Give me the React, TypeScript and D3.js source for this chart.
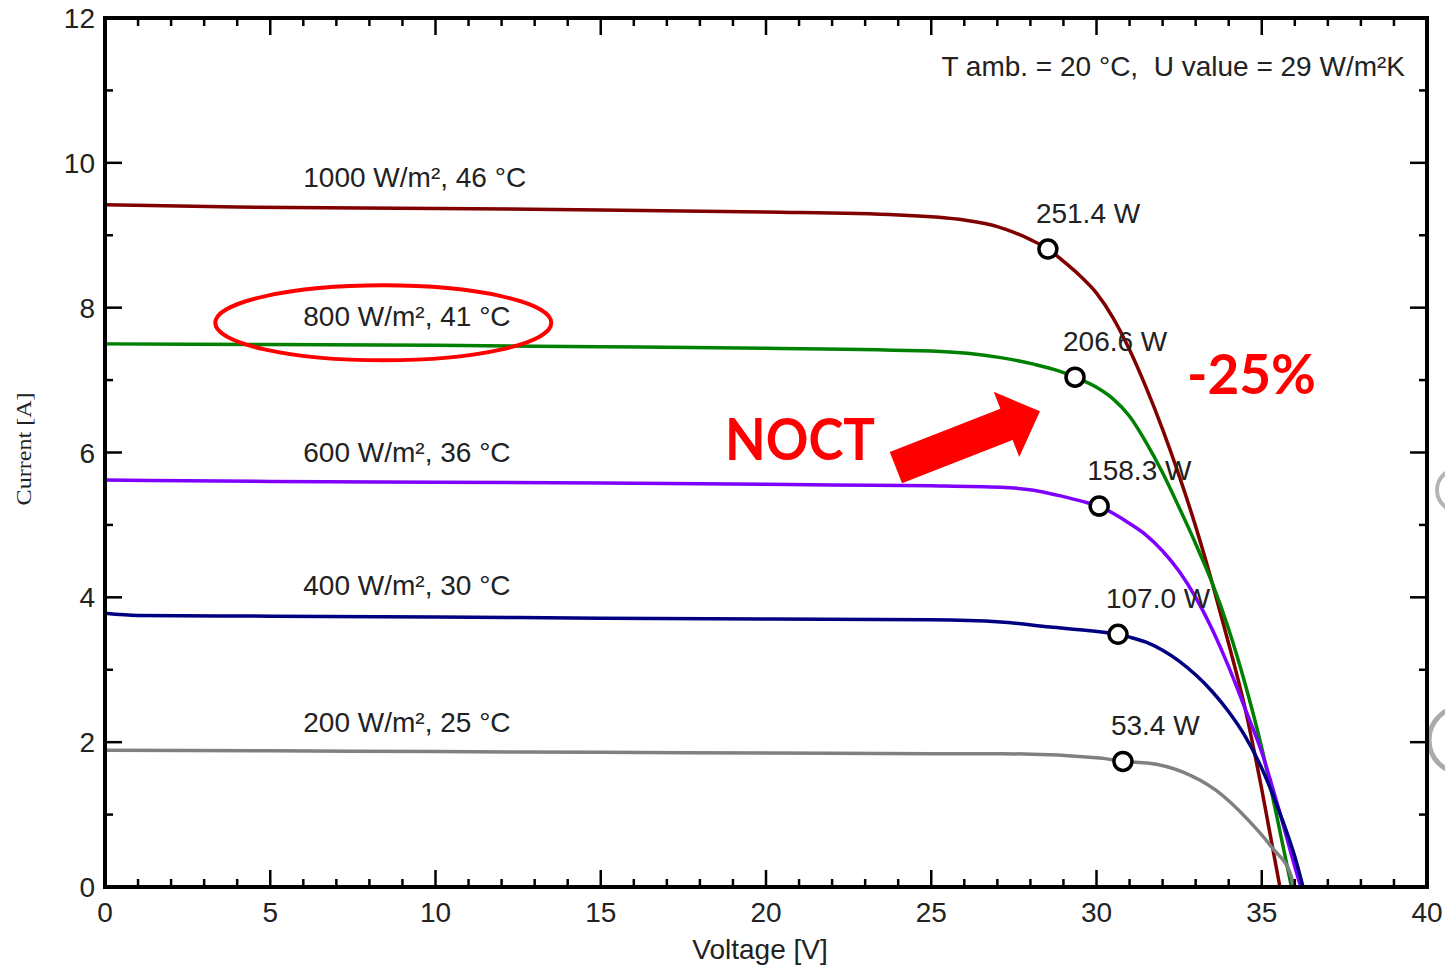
import React, { Component, createRef } from 'react';
import * as d3 from 'd3';

type Pt = [number, number];

const WIDTH = 1445;
const HEIGHT = 967;
const margin = { top: 18, right: 18, bottom: 80, left: 105 };

// voltage [V], current [A]
const curve1000: Pt[] = [
  [0, 9.42], [4, 9.39], [10, 9.37], [15, 9.35], [20, 9.32], [24, 9.28], [26, 9.21],
  [27.0, 9.12], [27.5, 9.04], [28.0, 8.94], [28.53, 8.81], [29.0, 8.64], [29.5, 8.44],
  [30.0, 8.20], [30.5, 7.86], [31.0, 7.42], [31.5, 6.90], [32.0, 6.32], [32.5, 5.68],
  [33.0, 4.98], [33.5, 4.20], [34.0, 3.36], [34.5, 2.46], [35.0, 1.35], [35.55, 0]
];
const curve800: Pt[] = [
  [0, 7.50], [5, 7.49], [10, 7.48], [15, 7.46], [20, 7.44], [25, 7.40], [27.1, 7.31],
  [28.1, 7.22], [28.9, 7.12], [29.35, 7.04], [30.0, 6.90], [30.5, 6.74], [31.0, 6.50],
  [31.5, 6.14], [32.0, 5.72], [32.5, 5.24], [33.0, 4.74], [33.5, 4.20], [34.0, 3.56],
  [34.5, 2.80], [35.0, 1.92], [35.5, 0.88], [35.9, 0]
];
const curve600: Pt[] = [
  [0, 5.62], [5, 5.60], [10, 5.59], [15, 5.58], [18, 5.57], [22, 5.55], [25, 5.54],
  [27.1, 5.52], [28.1, 5.48], [29.1, 5.38], [29.7, 5.31], [30.08, 5.26], [30.5, 5.16],
  [31.0, 5.02], [31.5, 4.86], [32.0, 4.64], [32.5, 4.36], [33.0, 4.00], [33.5, 3.56],
  [34.0, 3.04], [34.5, 2.46], [35.0, 1.86], [35.5, 1.10], [36.0, 0.28], [36.18, 0]
];
const curve400: Pt[] = [
  [0, 3.78], [1, 3.75], [5, 3.74], [10, 3.73], [15, 3.71], [20, 3.70], [25, 3.69],
  [27.1, 3.66], [28.6, 3.59], [29.8, 3.54], [30.65, 3.49], [31.0, 3.45], [31.5, 3.38],
  [32.0, 3.27], [32.5, 3.12], [33.0, 2.93], [33.5, 2.70], [34.0, 2.42], [34.5, 2.08],
  [35.0, 1.64], [35.5, 1.08], [36.0, 0.42], [36.25, 0]
];
const curve200: Pt[] = [
  [0, 1.89], [5, 1.88], [10, 1.87], [15, 1.86], [20, 1.85], [25, 1.84], [27.1, 1.84],
  [30.1, 1.78], [30.8, 1.734], [31.6, 1.71], [32.6, 1.59], [33.6, 1.34], [34.6, 0.92],
  [35.3, 0.55], [35.9, 0.14], [35.95, 0]
];

const curves = [curve1000, curve800, curve600, curve400, curve200];
const curveLabels = [
  '1000 W/m², 46 °C', '800 W/m², 41 °C', '600 W/m², 36 °C', '400 W/m², 30 °C', '200 W/m², 25 °C'
];
const curveColors = ['#800000', '#008000', '#8000ff', '#000080', '#808080'];

// maximum power points
const mppVoltage = [28.53, 29.35, 30.08, 30.65, 30.8];
const mppCurrent = [8.81, 7.04, 5.26, 3.49, 1.734];
const mppLabels = ['251.4 W', '206.6 W', '158.3 W', '107.0 W', '53.4 W'];

const xTicks = [0, 5, 10, 15, 20, 25, 30, 35, 40];
const yTicks = [0, 2, 4, 6, 8, 10, 12];

const SANS = '"Liberation Sans", Arial, sans-serif';
const TEXT = '#222';

class IVChart extends Component {
  svgRef = createRef<SVGSVGElement>();

  componentDidMount() {
    this.draw();
  }

  componentDidUpdate() {
    this.draw();
  }

  draw() {
    const svg = d3.select(this.svgRef.current);
    svg.selectAll('*').remove();
    const x = d3.scaleLinear().domain([0, 40]).range([margin.left, WIDTH - margin.right]);
    const y = d3.scaleLinear().domain([0, 12]).range([HEIGHT - margin.bottom, margin.top]);

    this.drawSlideLeftovers(svg);
    this.drawCurves(svg, x, y);
    this.drawMpp(svg, x, y);
    this.drawFrame(svg, x, y);
    this.drawNotes(svg, x, y);
  }

  // bits of the slide the screenshot cut through on the right edge
  drawSlideLeftovers(svg) {
    svg.append('circle').attr('cx', 1458).attr('cy', 490).attr('r', 21)
      .attr('fill', 'none').attr('stroke', '#b4b4b4').attr('stroke-width', 4);
    svg.append('circle').attr('cx', 1462).attr('cy', 740).attr('r', 33)
      .attr('fill', 'none').attr('stroke', '#aaaaaa').attr('stroke-width', 5);
  }

  drawCurves(svg, x, y) {
    const line = d3.line<Pt>()
      .x(d => x(d[0]))
      .y(d => y(d[1]))
      .curve(d3.curveMonotoneX);

    curves.forEach((c, i) => {
      svg.append('path')
        .datum(c)
        .attr('d', line)
        .attr('fill', 'none')
        .attr('stroke', curveColors[i])
        .attr('stroke-width', 3.5);

      svg.append('text')
        .attr('x', x(6))
        .attr('y', y(c[0][1]) - 18)
        .attr('font-family', SANS)
        .attr('font-size', 28)
        .attr('fill', TEXT)
        .text(curveLabels[i]);
    });
  }

  drawMpp(svg, x, y) {
    mppVoltage.forEach((v, i) => {
      const cx = x(v);
      const cy = y(mppCurrent[i]);
      svg.append('circle')
        .attr('cx', cx).attr('cy', cy).attr('r', 9)
        .attr('fill', '#fff').attr('stroke', '#000').attr('stroke-width', 3.5);
      svg.append('text')
        .attr('x', cx - 12)
        .attr('y', cy - 26)
        .attr('font-family', SANS)
        .attr('font-size', 28)
        .attr('fill', TEXT)
        .text(mppLabels[i]);
    });
  }

  drawFrame(svg, x, y) {
    const [x0, x1] = x.range();
    const [y0, y1] = y.range();
    const ticks = svg.append('g').attr('stroke', '#000').attr('stroke-width', 2.5);

    d3.range(0, 41, 1).forEach(v => {
      const len = v % 5 === 0 ? 17 : 8;
      ticks.append('line').attr('x1', x(v)).attr('x2', x(v)).attr('y1', y0).attr('y2', y0 - len);
      ticks.append('line').attr('x1', x(v)).attr('x2', x(v)).attr('y1', y1).attr('y2', y1 + len);
    });
    d3.range(0, 13, 1).forEach(v => {
      const len = v % 2 === 0 ? 17 : 8;
      ticks.append('line').attr('y1', y(v)).attr('y2', y(v)).attr('x1', x0).attr('x2', x0 + len);
      ticks.append('line').attr('y1', y(v)).attr('y2', y(v)).attr('x1', x1).attr('x2', x1 - len);
    });

    svg.append('rect')
      .attr('x', x0).attr('y', y1)
      .attr('width', x1 - x0).attr('height', y0 - y1)
      .attr('fill', 'none').attr('stroke', '#000').attr('stroke-width', 4);

    svg.append('g').selectAll('text').data(xTicks).join('text')
      .attr('x', d => x(d))
      .attr('y', y0 + 35)
      .attr('text-anchor', 'middle')
      .attr('font-family', SANS)
      .attr('font-size', 28)
      .attr('fill', TEXT)
      .text(d => d);

    svg.append('g').selectAll('text').data(yTicks).join('text')
      .attr('x', x0 - 10)
      .attr('y', d => y(d) + 10)
      .attr('text-anchor', 'end')
      .attr('font-family', SANS)
      .attr('font-size', 28)
      .attr('fill', TEXT)
      .text(d => d);

    svg.append('text')
      .attr('x', (x0 + x1) / 2 - 6)
      .attr('y', 959)
      .attr('text-anchor', 'middle')
      .attr('font-family', SANS)
      .attr('font-size', 28)
      .attr('fill', TEXT)
      .text('Voltage [V]');

    svg.append('text')
      .attr('transform', `translate(31, ${y(6.05)}) rotate(-90)`)
      .attr('text-anchor', 'middle')
      .attr('font-family', '"Liberation Serif", "Times New Roman", serif')
      .attr('font-size', 22)
      .attr('textLength', 113)
      .attr('lengthAdjust', 'spacingAndGlyphs')
      .attr('fill', TEXT)
      .text('Current [A]');

    svg.append('text')
      .attr('x', 1405)
      .attr('y', 76)
      .attr('text-anchor', 'end')
      .attr('font-family', SANS)
      .attr('font-size', 28)
      .attr('fill', TEXT)
      .style('white-space', 'pre')
      .text('T amb. = 20 °C,  U value = 29 W/m²K');
  }

  // red slide annotations on top of the chart
  drawNotes(svg, x, y) {
    const red = '#ff0000';

    svg.append('ellipse')
      .attr('cx', x(8.42)).attr('cy', y(7.79))
      .attr('rx', 168).attr('ry', 37.5)
      .attr('fill', 'none').attr('stroke', red).attr('stroke-width', 4);

    // arrow from tail to tip, in data units
    const tail = [x(23.93), y(5.79)];
    const tip = [x(28.29), y(6.57)];
    const dx = tip[0] - tail[0];
    const dy = tip[1] - tail[1];
    const len = Math.hypot(dx, dy);
    const ux = dx / len, uy = dy / len;
    const nx = -uy, ny = ux;
    const shaft = 16.8, head = 35, neck = len - 36;
    const at = (a, n) => [tail[0] + ux * a + nx * n, tail[1] + uy * a + ny * n];
    const pts = [at(0, shaft), at(neck, shaft), at(neck, head), at(len, 0),
      at(neck, -head), at(neck, -shaft), at(0, -shaft)];
    svg.append('polygon')
      .attr('points', pts.map(p => p.join(',')).join(' '))
      .attr('fill', red);

    svg.append('text')
      .attr('x', x(18.76)).attr('y', y(5.9))
      .attr('font-family', 'Lato, "Open Sans", sans-serif')
      .attr('font-weight', 700)
      .attr('font-size', 57)
      .attr('textLength', 150)
      .attr('lengthAdjust', 'spacingAndGlyphs')
      .attr('fill', red)
      .text('NOCT');

    svg.append('text')
      .attr('x', x(32.74)).attr('y', y(6.81))
      .attr('font-family', 'Lato, "Open Sans", sans-serif')
      .attr('font-weight', 700)
      .attr('font-size', 56)
      .attr('textLength', 129)
      .attr('lengthAdjust', 'spacingAndGlyphs')
      .attr('fill', red)
      .text('-25%');
  }

  render() {
    return (
      <svg
        ref={this.svgRef}
        width={WIDTH}
        height={HEIGHT}
        style={{ position: 'absolute', left: 0, top: 0, background: '#fff' }}
      />
    );
  }
}

export default function App() {
  return <IVChart />;
}
